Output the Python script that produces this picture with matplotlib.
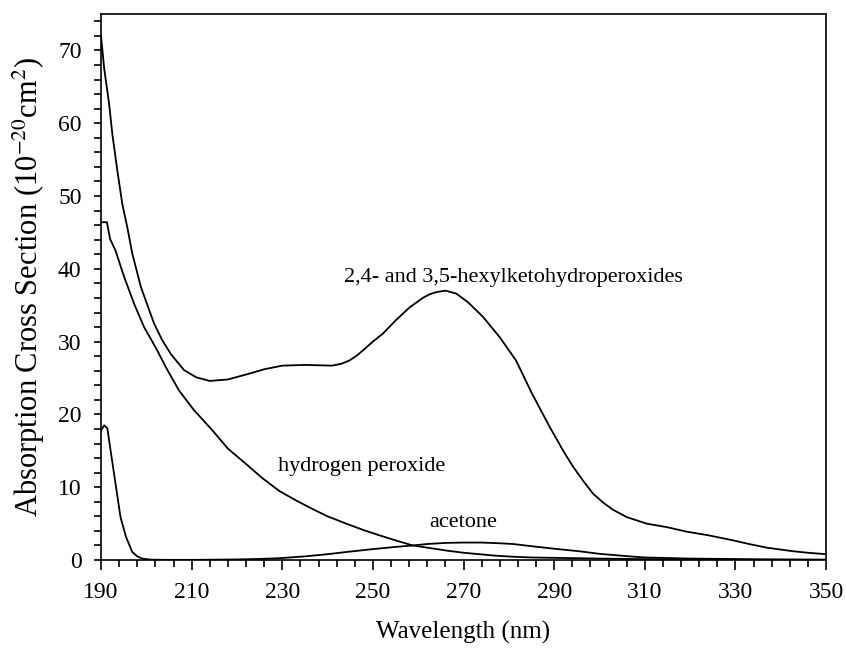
import matplotlib
matplotlib.use("Agg")
import matplotlib.pyplot as plt

plt.rcParams['font.family'] = ['Liberation Serif', 'DejaVu Serif']
plt.rcParams['mathtext.fontset'] = 'stix'

# ketohydroperoxides
keto_x = [190, 190.7, 191.8, 192.5, 193.6, 194.7, 195.8, 196.9, 198.8, 201.7, 203.5, 205.4,
          208.3, 211, 214, 218, 222.7, 226, 230, 235, 238, 241, 243, 244.8, 246.5, 248,
          250, 252.2, 255, 258.1, 261, 262.5, 264, 266, 268.4, 271, 274.3, 278, 281.6,
          285, 289, 292, 294.2, 296.5, 298.6, 301, 303, 306, 310.4, 315, 319.2, 324,
          329.5, 333, 336.9, 342.8, 346, 350]
keto_y = [72, 67.5, 62.6, 58.5, 53.5, 48.9, 45.7, 42.1, 37.5, 32.5, 30.2, 28.3,
          26.1, 25.1, 24.6, 24.8, 25.6, 26.2, 26.7, 26.8, 26.75, 26.7, 26.95, 27.4, 28.1, 28.9,
          30.0, 31.1, 32.9, 34.7, 36.0, 36.5, 36.8, 37.0, 36.6, 35.4, 33.4, 30.6, 27.4,
          23.0, 18.3, 15.0, 12.8, 10.8, 9.1, 7.8, 6.9, 5.9, 5.0, 4.5, 3.9, 3.4,
          2.7, 2.2, 1.7, 1.2, 1.0, 0.8]

# hydrogen peroxide
h2o2_x = [190, 191.3, 192, 193.2, 195.1, 197.3, 199.5, 202.4, 204.3, 207.2, 210.5, 214.6,
          218, 222, 225.5, 229.3, 233, 236.7, 240, 244.1, 248, 251.4, 255, 258.8, 262,
          266.2, 270, 273.5, 277, 280.9, 285, 290, 295, 300, 310, 320, 335, 350]
h2o2_y = [46.4, 46.4, 44.1, 42.5, 38.9, 35.2, 32.0, 28.8, 26.5, 23.3, 20.6, 17.8,
          15.3, 13.2, 11.3, 9.5, 8.2, 7.0, 6.0, 5.0, 4.1, 3.4, 2.7, 2.0, 1.7,
          1.3, 1.0, 0.8, 0.6, 0.45, 0.35, 0.3, 0.25, 0.2, 0.12, 0.06, 0.03, 0.02]

# acetone
acet_x = [190, 190.7, 191.4, 192.1, 193.2, 194.3, 195.5, 196.9, 198, 199.1, 201, 205,
          210, 215, 220, 225, 229.3, 235, 240, 244.1, 250, 255, 258.8, 262, 266, 269.9,
          274, 278, 280.9, 285, 290, 295.6, 300, 306.7, 310, 320, 335, 350]
acet_y = [17.8, 18.5, 18.1, 15.1, 10.5, 5.9, 3.2, 1.1, 0.5, 0.2, 0.05, 0.02,
          0.02, 0.05, 0.08, 0.15, 0.25, 0.5, 0.8, 1.1, 1.5, 1.8, 2.0, 2.2, 2.35, 2.4,
          2.4, 2.3, 2.2, 1.9, 1.55, 1.2, 0.85, 0.5, 0.35, 0.2, 0.1, 0.05]

fig = plt.figure(figsize=(8.46, 6.49), dpi=100)
ax = fig.add_axes([0.1194, 0.1371, 0.857, 0.8413])

for xs, ys in [(keto_x, keto_y), (h2o2_x, h2o2_y), (acet_x, acet_y)]:
    ax.plot(xs, ys, color='black', lw=1.3)

ax.text(281, 38.8, '2,4- and 3,5-hexylketohydroperoxides', ha='center', va='center', fontsize=16)
ax.text(247.6, 12.9, 'hydrogen peroxide', ha='center', va='center', fontsize=16)
ax.text(269.9, 5.1, 'acetone', ha='center', va='center', fontsize=16)

ax.set_xlim(190, 350)
ax.set_ylim(0, 75)
ax.set_xticks(range(190, 351, 20))
ax.set_xticks(range(190, 351, 4), minor=True)
ax.set_yticks(range(0, 71, 10))
ax.set_yticks(range(0, 75, 2), minor=True)
ax.tick_params(which='both', direction='out', top=False, right=False, width=1.2,
               labelsize=17)
ax.tick_params(axis='x', which='major', length=7, pad=9)
ax.tick_params(axis='x', which='minor', length=5)
ax.tick_params(axis='y', which='both', length=5, pad=9)
for s in ax.spines.values():
    s.set_linewidth(1.2)

ax.set_xlabel('Wavelength (nm)', fontsize=18)
ax.xaxis.set_label_coords(0.5, -0.112)
ax.set_ylabel('Absorption Cross Section (10$^{-20}$cm$^{2}$)', fontsize=22)
ax.yaxis.set_label_coords(-0.075, 0.5)

fig.savefig('out.png', dpi=100)
